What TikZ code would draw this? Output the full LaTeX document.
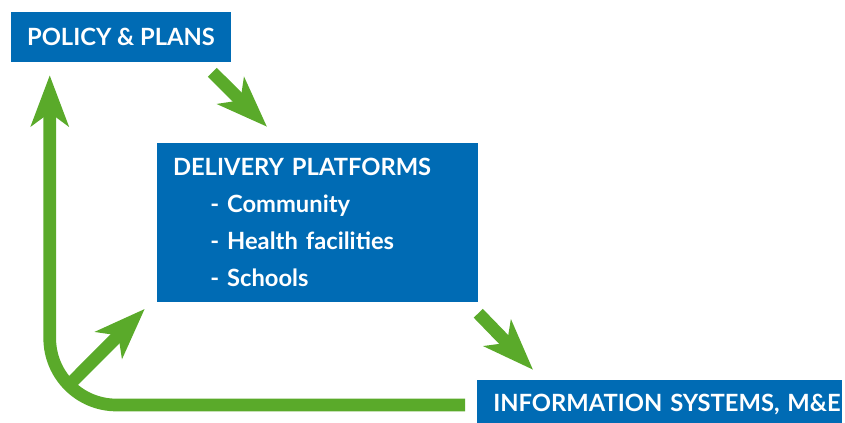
\documentclass[tikz,border=0pt]{standalone}
\usepackage{fontspec}
\setmainfont{Lato}
\usepackage{tikz}
\usetikzlibrary{arrows.meta}
\usetikzlibrary{calc}

\definecolor{boxblue}{RGB}{0,107,180}
\definecolor{flowgreen}{RGB}{90,170,42}

\begin{document}
\begin{tikzpicture}[x=0.75pt,y=-0.75pt,
        box/.style={fill=boxblue,text=white,font=\fontsize{17.8}{27.75}\selectfont\bfseries,inner sep=0pt},
        flow/.style={draw=flowgreen,line width=9.5pt,-{Stealth[length=38pt,width=28pt,inset=10pt]}}]
            \useasboundingbox (0,0) rectangle (845,423);
            \node[box,minimum width=165pt,minimum height=37.5pt] (policy) at (121,37) {POLICY \& PLANS};
            \node[box,minimum width=240.75pt,minimum height=119.25pt,text width=216.75pt,align=left] (delivery) at (317.5,222.5)
                {DELIVERY PLATFORMS\\\hspace*{28pt}- Community\\\hspace*{28pt}- Health facilities\\\hspace*{28pt}- Schools};
            \node[box,anchor=west,minimum width=273.75pt,minimum height=37.5pt,text width=273.75pt,align=left] (info) at (477,405)
                {\mbox{\hspace*{12pt}INFORMATION SYSTEMS, M\&E}};
            \draw[flow,rounded corners=50pt] ([xshift=-9pt]info.west) -| ([xshift=29.25pt,yshift=-9.75pt]policy.south west);
            \coordinate (corner) at (70,384);
            \draw[flow] (corner) -- ([xshift=-9pt,yshift=-5pt]delivery.south west);
            \draw[flow] ([xshift=-14.25pt,yshift=-7.5pt]policy.south east) -- ([xshift=-37.9pt,yshift=12pt]delivery.north);
            \draw[flow] ([yshift=-8.25pt]delivery.south east) -- ([xshift=42pt,yshift=7.5pt]info.north west);
        \end{tikzpicture}
\end{document}
